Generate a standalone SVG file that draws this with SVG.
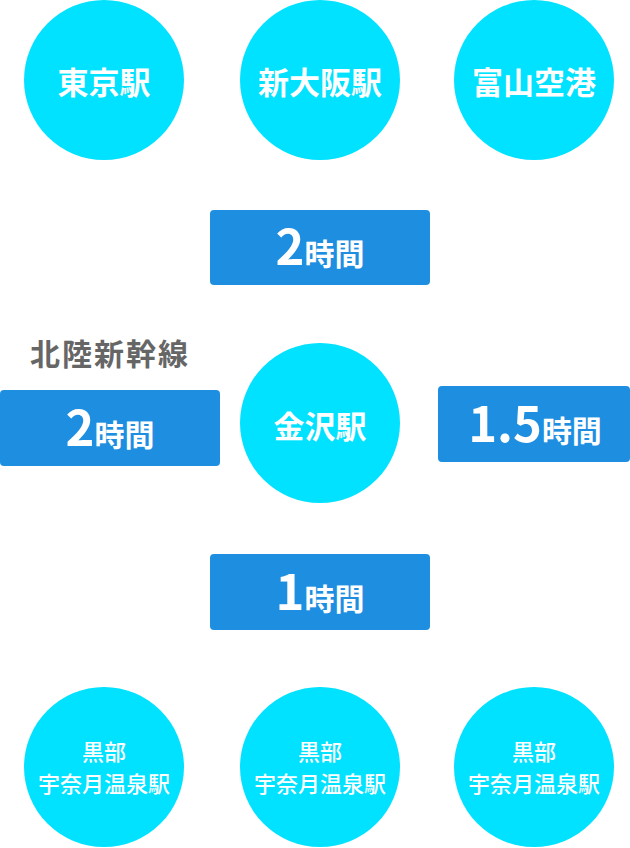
<svg xmlns="http://www.w3.org/2000/svg" width="630" height="848" viewBox="0 0 630 848">
<style>
.c{fill:#00e2ff}
.b{fill:#1e8ee0}
text{font-family:"Noto Sans CJK JP","Noto Sans",sans-serif;font-weight:700;fill:#fff;text-anchor:middle}
.st{font-size:31px}
.sm{font-size:22px;font-weight:500}
.big{font-size:49px}
.hr{font-size:30px}
.lbl{font-size:30px;fill:#666;text-anchor:start;letter-spacing:2px}
</style>
<rect width="630" height="848" fill="#fff"/>
<g id="connectors"/>
<g id="tokyo"><circle class="c" cx="104" cy="80" r="80"/><text class="st" x="104" y="94">東京駅</text></g>
<g id="shinosaka"><circle class="c" cx="320" cy="80" r="80"/><text class="st" x="320" y="94">新大阪駅</text></g>
<g id="toyama"><circle class="c" cx="534" cy="80" r="80"/><text class="st" x="534" y="94">富山空港</text></g>
<g id="box-top"><rect class="b" x="210" y="210" width="220" height="75" rx="4"/><text x="320" y="265"><tspan class="big">2</tspan><tspan class="hr">時間</tspan></text></g>
<g id="label"><text class="lbl" x="30" y="365">北陸新幹線</text></g>
<g id="box-left"><rect class="b" x="0" y="390" width="220" height="76" rx="4"/><text x="110" y="446"><tspan class="big">2</tspan><tspan class="hr">時間</tspan></text></g>
<g id="kanazawa"><circle class="c" cx="320" cy="423" r="80"/><text class="st" x="320" y="438">金沢駅</text></g>
<g id="box-right"><rect class="b" x="438" y="386" width="192" height="76" rx="4"/><text x="535" y="442"><tspan class="big">1.5</tspan><tspan class="hr">時間</tspan></text></g>
<g id="box-bottom"><rect class="b" x="210" y="554" width="220" height="76" rx="4"/><text x="320" y="610"><tspan class="big">1</tspan><tspan class="hr">時間</tspan></text></g>
<g id="kurobe1"><circle class="c" cx="104" cy="767" r="80"/><text class="sm" x="104" y="760">黒部</text><text class="sm" x="104" y="792">宇奈月温泉駅</text></g>
<g id="kurobe2"><circle class="c" cx="320" cy="767" r="80"/><text class="sm" x="320" y="760">黒部</text><text class="sm" x="320" y="792">宇奈月温泉駅</text></g>
<g id="kurobe3"><circle class="c" cx="534" cy="767" r="80"/><text class="sm" x="534" y="760">黒部</text><text class="sm" x="534" y="792">宇奈月温泉駅</text></g>
</svg>
